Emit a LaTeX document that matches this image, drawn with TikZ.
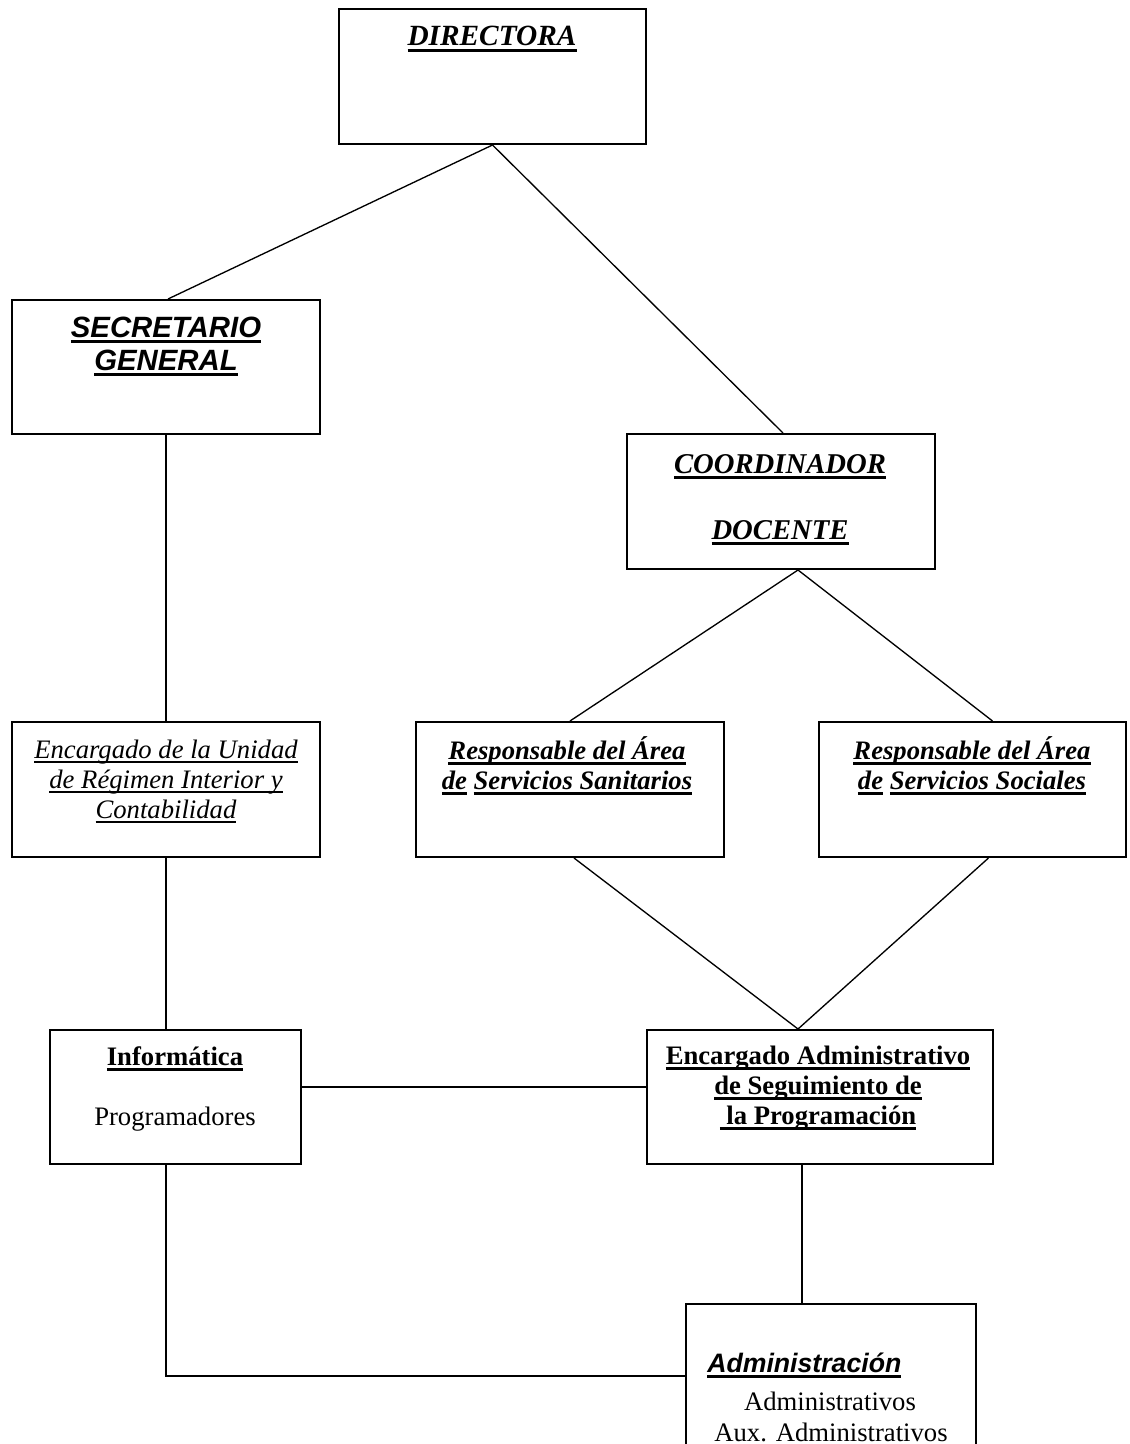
\documentclass[tikz,border=0pt]{standalone}
\usepackage{fontspec}
\setmainfont{Liberation Serif}
\newfontfamily\arialf{Liberation Sans}
\usetikzlibrary{calc}
\newsavebox\ulbox
\newcommand\ulk[1]{\sbox\ulbox{#1}\rlap{\rule[-4.2pt]{\wd\ulbox}{1.9pt}}\usebox\ulbox}
\newcommand\ulm[1]{\sbox\ulbox{#1}\rlap{\rule[-3.4pt]{\wd\ulbox}{0.9pt}}\usebox\ulbox}
\newcommand\bigsz{\fontsize{22pt}{26pt}\selectfont}
\newcommand\secsz{\fontsize{22pt}{26pt}\selectfont}
\newcommand\midsz{\fontsize{21.5pt}{25pt}\selectfont}
\newcommand\regsz{\fontsize{20pt}{24pt}\selectfont}
\begin{document}
\begin{tikzpicture}[x=0.75pt,y=-0.75pt,
  box/.style={draw, line width=1.5pt, rectangle, inner sep=0pt},
  boxwh/.style 2 args={minimum width={#1*0.75pt}, minimum height={#2*0.75pt}},
  conn/.style={line width=1pt},
  lbl/.style={anchor=base, inner sep=0pt}]
\clip (0,0) rectangle (1129,1444);
\fill[white] (0,0) rectangle (1129,1444);
% boxes
\node[box, boxwh={307}{135}] (dir) at (492.5,76.5) {};
\node[box, boxwh={308}{134}] (sec) at (166,367) {};
\node[box, boxwh={308}{135}] (coo) at (781,501.5) {};
\node[box, boxwh={308}{135}] (enc) at (166,789.5) {};
\node[box, boxwh={308}{135}] (san) at (570,789.5) {};
\node[box, boxwh={307}{135}] (soc) at (972.5,789.5) {};
\node[box, boxwh={251}{134}] (inf) at (175.5,1097) {};
\node[box, boxwh={346}{134}] (ead) at (820,1097) {};
\node[box, boxwh={290}{170}] (adm) at (831,1389) {};
% connectors
\draw[conn] (dir.south) -- ($(sec.north)+(2,0)$);
\draw[conn] (dir.south) -- ($(coo.north)+(2,0)$);
\draw[conn] ($(coo.south)+(17,0)$) -- (san.north);
\draw[conn] ($(coo.south)+(17,0)$) -- ($(soc.north)+(20,0)$);
\draw[conn] (sec.south) -- (enc.north);
\draw[conn] (enc.south) -- ($(inf.north)+(-9.5,0)$);
\draw[conn] ($(san.south)+(4,0)$) -- ($(ead.north)+(-22,0)$);
\draw[conn] ($(soc.south)+(16,0)$) -- ($(ead.north)+(-22,0)$);
\draw[conn] ($(inf.east)+(0,-10)$) -- ($(ead.west)+(0,-10)$);
\draw[conn] ($(ead.south)+(-18,0)$) -- ($(adm.north)+(-29,0)$);
\draw[conn] ($(inf.south)+(-9.5,0)$) |- ($(adm.west)+(0,-13)$);
% texts
\node[lbl] (t-dir) at (492,46) {\bigsz\bfseries\itshape\ulk{DIRECTORA}};
\node[lbl] (t-sec1) at (166,337) {\arialf\secsz\bfseries\itshape\ulk{SECRETARIO}};
\node[lbl] (t-sec2) at (166,370) {\arialf\secsz\bfseries\itshape\ulk{GENERAL}};
\node[lbl] (t-coo1) at (780,473) {\midsz\bfseries\itshape\ulk{COORDINADOR}};
\node[lbl] (t-coo2) at (780,539) {\midsz\bfseries\itshape\ulk{DOCENTE}};
\node[lbl] (t-enc1) at (166,758) {\regsz\itshape\ulm{Encargado de la Unidad}};
\node[lbl] (t-enc2) at (166,788) {\regsz\itshape\ulm{de Régimen Interior y}};
\node[lbl] (t-enc3) at (166,818) {\regsz\itshape\ulm{Contabilidad}};
\node[lbl] (t-san1) at (567,759) {\regsz\bfseries\itshape\ulk{Responsable del Área}};
\node[lbl] (t-san2) at (567,789) {\regsz\bfseries\itshape\ulk{de} \ulk{Servicios Sanitarios}};
\node[lbl] (t-soc1) at (972,759) {\regsz\bfseries\itshape\ulk{Responsable del Área}};
\node[lbl] (t-soc2) at (972,789) {\regsz\bfseries\itshape\ulk{de} \ulk{Servicios Sociales}};
\node[lbl] (t-inf1) at (175,1065) {\regsz\bfseries\ulk{Informática}};
\node[lbl] (t-inf2) at (175,1125) {\regsz Programadores};
\node[lbl] (t-ead1) at (818,1064) {\regsz\bfseries\ulk{Encargado Administrativo}};
\node[lbl] (t-ead2) at (818,1094) {\regsz\bfseries\ulk{de Seguimiento de}};
\node[lbl] (t-ead3) at (818,1124) {\regsz\bfseries\ulk{\ la Programación}};
\node[lbl, anchor=base west] (t-adm1) at (707,1372) {\arialf\regsz\bfseries\itshape\ulk{Administración}};
\node[lbl] (t-adm2) at (830,1410) {\regsz Administrativos};
\node[lbl] (t-adm3) at (831,1441) {\regsz Aux. Administrativos};
\end{tikzpicture}
\end{document}
